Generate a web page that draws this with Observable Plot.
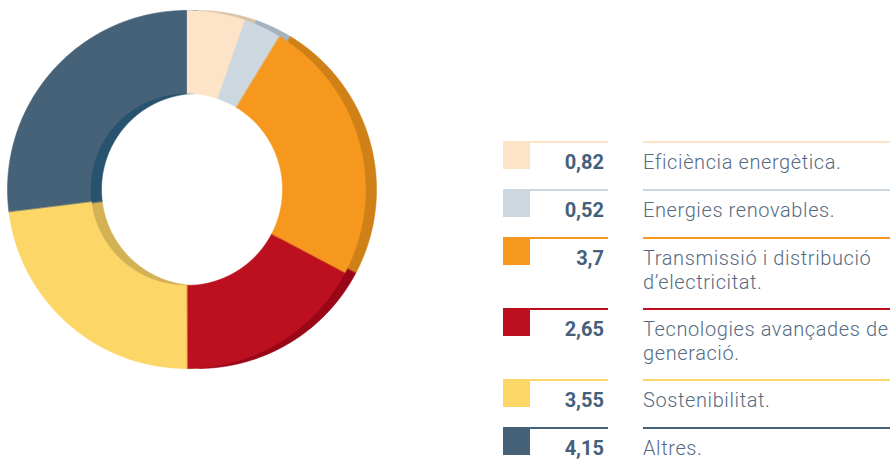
<!DOCTYPE html>
<html>
<head>
<meta charset="utf-8">
<script src="https://cdn.jsdelivr.net/npm/d3@7"></script>
<script src="https://cdn.jsdelivr.net/npm/@observablehq/plot@0.6"></script>
<style>
  html, body { margin: 0; padding: 0; background: #fff; }
  #wrap { position: relative; width: 890px; height: 459px; overflow: hidden; font-family: Roboto, "Liberation Sans", sans-serif; }
  #donut { position: absolute; left: 0; top: 0; }
  .row { position: absolute; left: 503px; width: 387px; }
  .rule1, .rule2 { position: absolute; top: 0; height: 1.5px; }
  .rule1 { left: 0; width: 105px; }
  .rule2 { left: 140px; width: 247px; }
  .sw { position: absolute; left: 0; top: 1px; width: 27px; height: 27px; }
  .val { position: absolute; right: 286px; top: 9px; font-weight: 700; font-size: 20px; line-height: 25px; color: #44607A; text-align: right; }
  .lab { position: absolute; left: 140px; top: 8.5px; font-weight: 300; font-size: 20px; letter-spacing: 0.6px; line-height: 24.5px; color: #566B82; white-space: pre; }
</style>
</head>
<body>
<div id="wrap">
  <div id="donut"></div>
  <div id="legend"></div>
</div>
<script>
// ---- data ----
const categories = [
  "Eficiència energètica.",
  "Energies renovables.",
  "Transmissió i distribució\nd’electricitat.",
  "Tecnologies avançades de\ngeneració.",
  "Sostenibilitat.",
  "Altres."
];
const values = [0.82, 0.52, 3.7, 2.65, 3.55, 4.15];
const valueLabels = ["0,82", "0,52", "3,7", "2,65", "3,55", "4,15"];
const colors = ["#FDE4C8", "#CCD7E0", "#F7981E", "#BC1021", "#FDD668", "#466279"];
const shadowColors = ["#D8C2A9", "#A6B2BD", "#CF8016", "#980617", "#D3B155", "#27536E"];

// ---- donut geometry (pixel-like units) ----
const R = 179, r = 96, depth = 11;
const pie = d3.pie().sort(null).value(d => d.value);
const arcs = pie(categories.map((c, i) => ({key: c, value: values[i], i})));

function ringPoints(a, layer, dx) {
  const pts = [];
  const step = Math.PI / 720;
  const n = Math.max(2, Math.ceil((a.endAngle - a.startAngle) / step));
  const key = layer + a.data.i;
  for (let k = 0; k <= n; k++) {
    const t = a.startAngle + (a.endAngle - a.startAngle) * k / n;
    pts.push({x: dx + R * Math.sin(t), y: -R * Math.cos(t), key});
  }
  for (let k = n; k >= 0; k--) {
    const t = a.startAngle + (a.endAngle - a.startAngle) * k / n;
    pts.push({x: dx + r * Math.sin(t), y: -r * Math.cos(t), key});
  }
  return pts;
}
const backPts = arcs.flatMap(a => ringPoints(a, "s", depth));
const frontPts = arcs.flatMap(a => ringPoints(a, "f", 0));
const keys = [...categories.map((c, i) => "s" + i), ...categories.map((c, i) => "f" + i)];
const colorRange = [...shadowColors, ...colors];

const chart = Plot.plot({
  width: 400,
  height: 459,
  margin: 0,
  x: {domain: [-186, 214], axis: null},
  y: {domain: [270, -189], axis: null},
  color: {type: "ordinal", domain: keys, range: colorRange},
  marks: [
    Plot.line(backPts, {x: "x", y: "y", z: "key", fill: "key", stroke: "key", strokeWidth: 0.6, curve: "linear-closed"}),
    Plot.line(frontPts, {x: "x", y: "y", z: "key", fill: "key", stroke: "key", strokeWidth: 0.6, curve: "linear-closed"})
  ]
});
document.getElementById("donut").appendChild(chart);

// ---- legend ----
const legend = document.getElementById("legend");
let rowTop = 141;
categories.forEach((c, i) => {
  const lines = c.split("\n").length;
  const h = 48 + 23 * (lines - 1);
  const row = document.createElement("div");
  row.className = "row";
  row.style.top = rowTop + "px";
  row.style.height = h + "px";
  row.innerHTML = `<div class="rule1" style="background:${colors[i]}"></div>
    <div class="rule2" style="background:${colors[i]}"></div>
    <div class="sw" style="background:${colors[i]}"></div>
    <div class="val"></div><div class="lab"></div>`;
  row.querySelector(".val").textContent = valueLabels[i];
  row.querySelector(".lab").textContent = c;
  legend.appendChild(row);
  rowTop += h;
});
</script>
</body>
</html>
